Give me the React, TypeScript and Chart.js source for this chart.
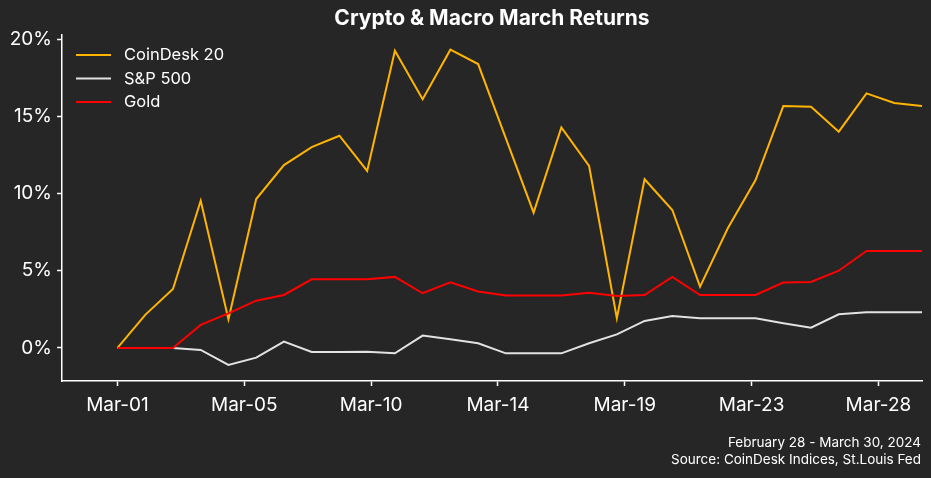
import React, { useEffect, useRef } from "react";
import { Chart, registerables } from "chart.js";

Chart.register(...registerables);

const dayIndex = [0,1,2,3,4,5,6,7,8,9,10,11,12,13,14,15,16,17,18,19,20,21,22,23,24,25,26,27,28,29];

const coinDesk20 = [0, 2.14, 3.82, 9.53, 1.86, 9.64, 11.84, 13.0, 13.74, 11.46, 19.24, 16.1, 19.31, 18.38, 13.57, 8.76, 14.28, 11.78, 1.92, 10.92, 8.93, 3.97, 7.75, 10.87, 15.66, 15.62, 14.0, 16.48, 15.86, 15.66];
const sp500 = [0, 0, 0, -0.13, -1.1, -0.63, 0.41, -0.26, -0.26, -0.24, -0.35, 0.8, 0.56, 0.3, -0.35, -0.35, -0.35, 0.3, 0.88, 1.75, 2.07, 1.92, 1.92, 1.92, 1.6, 1.31, 2.18, 2.31, 2.31, 2.31];
const gold = [0, 0, 0, 1.49, 2.24, 3.06, 3.43, 4.44, 4.44, 4.44, 4.6, 3.54, 4.25, 3.65, 3.39, 3.39, 3.39, 3.58, 3.37, 3.43, 4.6, 3.43, 3.43, 3.43, 4.23, 4.27, 5.0, 6.28, 6.28, 6.28];

const seriesNames = ["CoinDesk 20", "S&P 500", "Gold"];
const seriesColors = ["#FFB400", "#E2E2E2", "#FF0000"];
const seriesOrder = [2, 1, 0];

const xTickPositions = [0, 4.571, 9.143, 13.714, 18.286, 22.857, 27.429];
const xTickLabels = ["Mar-01", "Mar-05", "Mar-10", "Mar-14", "Mar-19", "Mar-23", "Mar-28"];
const yTickValues = [0, 5, 10, 15, 20];

const titleText = "Crypto & Macro March Returns";
const footerLines = ["February 28 - March 30, 2024", "Source: CoinDesk Indices, St.Louis Fed"];

const FONT = "Inter, 'Liberation Sans', sans-serif";
const BG = "#262626";

const overlayPlugin = {
  id: "overlay",
  beforeDraw(chart: any) {
    const ctx = chart.ctx;
    ctx.save();
    ctx.fillStyle = BG;
    ctx.fillRect(0, 0, chart.width, chart.height);
    ctx.restore();
  },
  afterDraw(chart: any) {
    const ctx = chart.ctx;
    const area = chart.chartArea;
    ctx.save();
    ctx.fillStyle = "#FFFFFF";
    ctx.font = `bold 21px ${FONT}`;
    ctx.textAlign = "center";
    ctx.textBaseline = "middle";
    ctx.fillText(titleText, (area.left + area.right) / 2, 18.5);
    ctx.font = `16.5px ${FONT}`;
    ctx.textAlign = "left";
    const rows = [55, 78.5, 102];
    seriesNames.forEach((n, i) => {
      ctx.strokeStyle = seriesColors[i];
      ctx.lineWidth = 2;
      ctx.beginPath();
      ctx.moveTo(76, rows[i]);
      ctx.lineTo(111, rows[i]);
      ctx.stroke();
      ctx.fillStyle = "#FFFFFF";
      ctx.fillText(n, 124, rows[i] + 0.5);
    });
    ctx.font = `13.5px ${FONT}`;
    ctx.textAlign = "right";
    ctx.fillStyle = "#FFFFFF";
    ctx.fillText(footerLines[0], 921, 443);
    ctx.fillText(footerLines[1], 921, 460);
    ctx.restore();
  },
};

export default function App() {
  const ref = useRef<HTMLCanvasElement>(null);
  useEffect(() => {
    document.body.style.margin = "0";
    document.body.style.background = BG;
    const mk = (vals: number[]) => dayIndex.map((d, i) => ({ x: d, y: vals[i] }));
    const values = [coinDesk20, sp500, gold];
    const chart = new Chart(ref.current!, {
      type: "line",
      data: {
        datasets: values.map((v, i) => ({
          label: seriesNames[i],
          data: mk(v),
          borderColor: seriesColors[i],
          borderWidth: 2,
          pointRadius: 0,
          tension: 0,
          order: seriesOrder[i],
        })),
      },
      options: {
        animation: false,
        responsive: false,
        maintainAspectRatio: false,
        layout: { padding: { top: 35, right: 9, bottom: 0, left: 0 } },
        plugins: { legend: { display: false }, tooltip: { enabled: false }, title: { display: false } },
        scales: {
          x: {
            type: "linear",
            min: -2,
            max: 29,
            afterBuildTicks: (s: any) => { s.ticks = xTickPositions.map((v) => ({ value: v })); },
            afterFit: (s: any) => { s.height = 97; },
            grid: { display: true, drawOnChartArea: false, drawTicks: true, tickLength: 5, color: "#FFFFFF", tickWidth: 1.5 },
            border: { display: true, color: "#FFFFFF", width: 1.5 },
            ticks: {
              color: "#FFFFFF",
              font: { family: FONT, size: 19 },
              padding: 8,
              maxRotation: 0,
              autoSkip: false,
              callback: (v: any) => {
                const i = xTickPositions.indexOf(v);
                return i >= 0 ? xTickLabels[i] : "";
              },
            },
          },
          y: {
            min: -2.14,
            max: 20.26,
            afterBuildTicks: (s: any) => { s.ticks = yTickValues.map((v) => ({ value: v })); },
            afterFit: (s: any) => { s.width = 62; },
            grid: { display: true, drawOnChartArea: false, drawTicks: true, tickLength: 5, color: "#FFFFFF", tickWidth: 1.5 },
            border: { display: true, color: "#FFFFFF", width: 1.5 },
            ticks: {
              color: "#FFFFFF",
              font: { family: FONT, size: 19 },
              padding: 5,
              callback: (v: any) => `${v}%`,
            },
          },
        },
      },
      plugins: [overlayPlugin],
    } as any);
    return () => chart.destroy();
  }, []);
  return <canvas ref={ref} width={931} height={478} style={{ display: "block" }} />;
}
